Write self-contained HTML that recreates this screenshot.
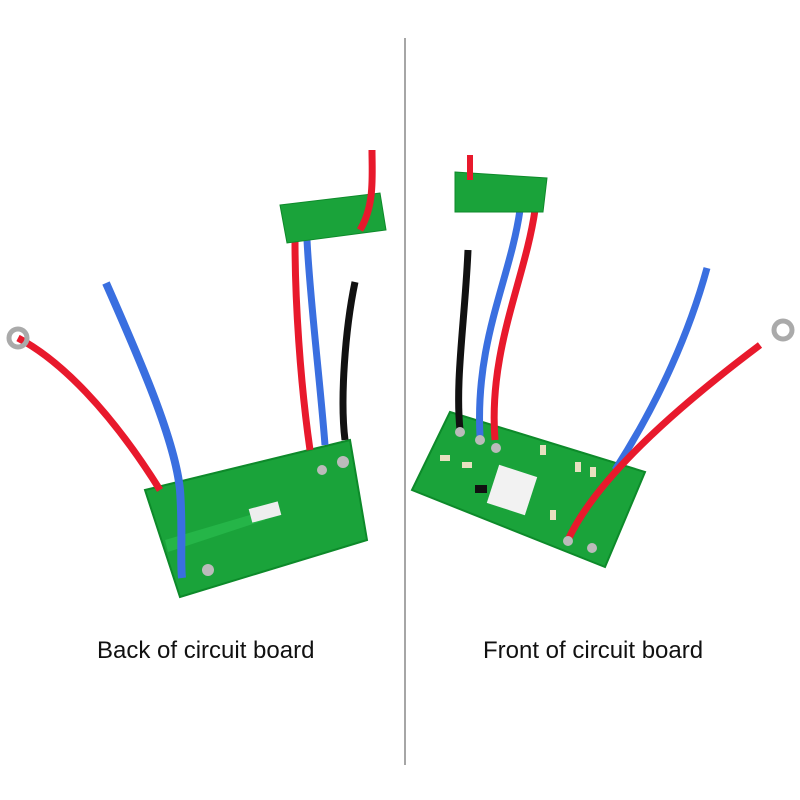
<!DOCTYPE html>
<html><head><style>
body{margin:0;background:#fff;}
.lbl{position:absolute;top:637px;font-family:"Liberation Sans",sans-serif;font-size:24px;color:#111;}
</style></head><body>
<div style="position:relative;width:800px;height:800px;overflow:hidden">
<svg width="800" height="800" style="position:absolute;left:0;top:0">
<line x1="405" y1="38" x2="405" y2="765" stroke="#888" stroke-width="1.5"/>
<!-- LEFT -->
<polygon points="145,490 350,440 367,540 180,597" fill="#1aa33a" stroke="#0d8a2a" stroke-width="2"/>
<polygon points="165,540 260,512 265,520 168,552" fill="#25b548"/>
<rect x="250" y="505" width="30" height="14" fill="#eee" transform="rotate(-15 265 512)"/>
<circle cx="208" cy="570" r="6" fill="#bbb"/><circle cx="343" cy="462" r="6" fill="#bbb"/><circle cx="322" cy="470" r="5" fill="#bbb"/>
<path d="M18,338 C60,360 110,410 160,490" stroke="#e8192c" stroke-width="7" fill="none"/>
<circle cx="18" cy="338" r="9" fill="none" stroke="#aaa" stroke-width="5"/>
<path d="M106,283 C140,360 175,440 180,490 C183,530 180,560 182,578" stroke="#3a6fe0" stroke-width="8" fill="none"/>
<path d="M295,240 C295,300 300,380 310,450" stroke="#e8192c" stroke-width="7" fill="none"/>
<path d="M307,240 C310,300 320,380 325,445" stroke="#3a6fe0" stroke-width="7" fill="none"/>
<path d="M355,282 C345,330 340,400 345,440" stroke="#111" stroke-width="7" fill="none"/>
<polygon points="280,205 380,193 386,230 287,243" fill="#1aa33a" stroke="#0d8a2a"/>
<path d="M372,150 C372,175 375,205 360,230" stroke="#e8192c" stroke-width="7" fill="none"/>
<!-- RIGHT -->
<polygon points="450,412 645,472 605,567 412,490" fill="#1aa33a" stroke="#0d8a2a" stroke-width="2"/>
<rect x="492" y="470" width="40" height="40" fill="#f2f2f2" transform="rotate(18 512 490)"/>
<rect x="475" y="485" width="12" height="8" fill="#111"/>
<g fill="#e8e0c0"><rect x="440" y="455" width="10" height="6"/><rect x="462" y="462" width="10" height="6"/><rect x="540" y="445" width="6" height="10"/><rect x="575" y="462" width="6" height="10"/><rect x="590" y="467" width="6" height="10"/><rect x="550" y="510" width="6" height="10"/></g>
<path d="M468,250 C465,320 455,380 460,430" stroke="#111" stroke-width="7" fill="none"/>
<path d="M520,210 C510,280 475,340 480,436" stroke="#3a6fe0" stroke-width="7" fill="none"/>
<path d="M535,210 C525,280 488,350 495,440" stroke="#e8192c" stroke-width="7" fill="none"/>
<circle cx="460" cy="432" r="5" fill="#bbb"/><circle cx="480" cy="440" r="5" fill="#bbb"/><circle cx="496" cy="448" r="5" fill="#bbb"/>
<path d="M707,268 C690,330 660,400 615,470" stroke="#3a6fe0" stroke-width="7" fill="none"/>
<path d="M760,345 C700,390 600,470 568,540" stroke="#e8192c" stroke-width="7" fill="none"/>
<circle cx="783" cy="330" r="9" fill="none" stroke="#aaa" stroke-width="5"/>
<circle cx="568" cy="541" r="5" fill="#bbb"/><circle cx="592" cy="548" r="5" fill="#bbb"/>
<polygon points="455,172 547,178 543,212 455,212" fill="#1aa33a" stroke="#0d8a2a"/>
<path d="M470,155 L470,180" stroke="#e8192c" stroke-width="6"/>
</svg>
<div class="lbl" style="left:97px">Back of circuit board</div>
<div class="lbl" style="left:483px">Front of circuit board</div>
</div>
</body></html>
